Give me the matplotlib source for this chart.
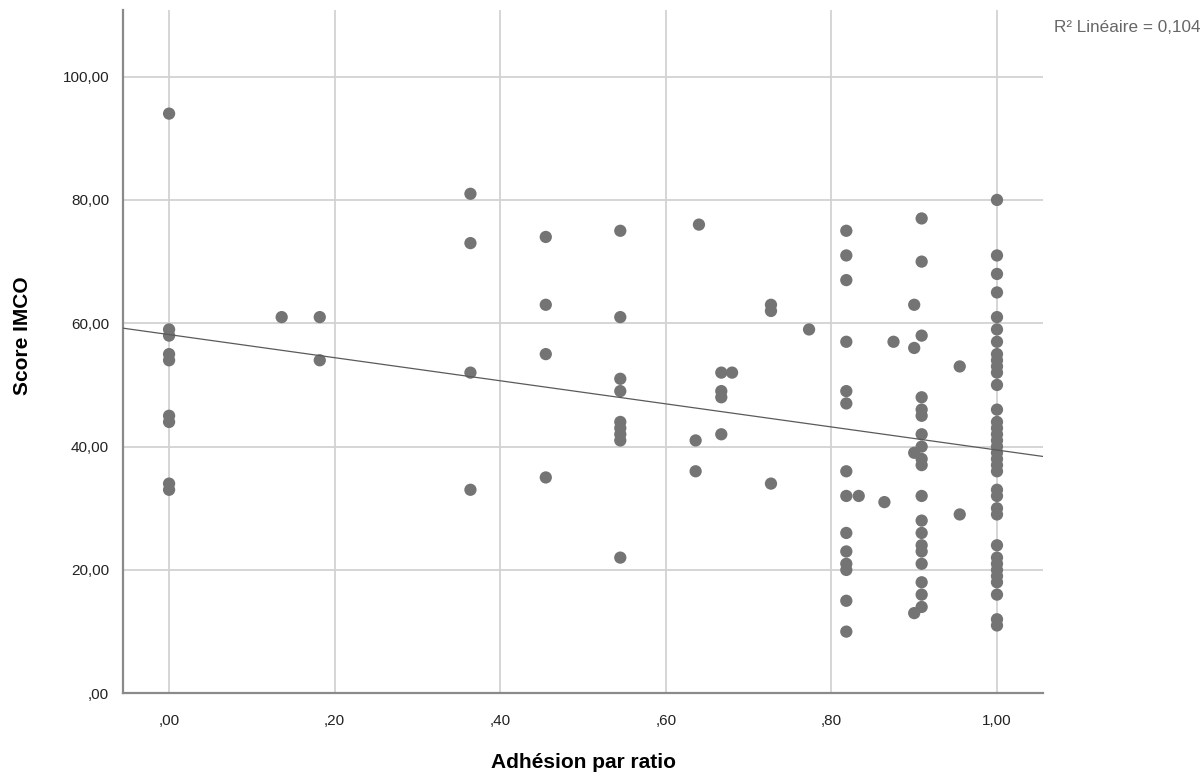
import numpy as np
import matplotlib
matplotlib.use("Agg")
import matplotlib.pyplot as plt

# Données : un ratio d'adhésion et les scores IMCO à ce ratio
adhesion = [0.0, 0.136, 0.182, 0.364, 0.455, 0.545, 0.636, 0.64, 0.667, 0.68,
            0.727, 0.773, 0.818, 0.833, 0.864, 0.875, 0.9, 0.909, 0.955, 1.0]

scores = [
    [94, 59, 58, 55, 54, 45, 44, 34, 33],
    [61],
    [61, 54],
    [81, 73, 52, 33],
    [74, 63, 55, 35],
    [75, 61, 51, 49, 44, 43, 42, 41, 22],
    [41, 36],
    [76],
    [52, 49, 48, 42],
    [52],
    [63, 62, 34],
    [59],
    [75, 71, 67, 57, 49, 47, 36, 32, 26, 23, 21, 20, 15, 10],
    [32],
    [31],
    [57],
    [63, 56, 39, 13],
    [77, 70, 58, 48, 46, 45, 42, 40, 38, 37, 32, 28, 26, 24, 23, 21, 18, 16, 14],
    [53, 29],
    [80, 71, 68, 65, 61, 59, 57, 55, 54, 53, 52, 50, 46, 44, 43, 42, 41, 40, 39,
     38, 37, 36, 33, 32, 30, 29, 24, 22, 21, 20, 19, 18, 16, 12, 11],
]

x_ticks = [0.0, 0.2, 0.4, 0.6, 0.8, 1.0]
x_labels = [",00", ",20", ",40", ",60", ",80", "1,00"]
y_ticks = [0, 20, 40, 60, 80, 100]
y_labels = [",00", "20,00", "40,00", "60,00", "80,00", "100,00"]
r2_texte = "R² Linéaire = 0,104"

# Mettre les points à plat
x = np.concatenate([[a] * len(s) for a, s in zip(adhesion, scores)])
y = np.concatenate(scores).astype(float)

plt.rcParams['font.family'] = ['Liberation Sans', 'DejaVu Sans']

fig = plt.figure(figsize=(12.04, 7.76), dpi=100)
ax = fig.add_axes([0.1022, 0.1066, 0.7641, 0.8805])

xlim = (-0.0556, 1.0556)
ax.set_xlim(*xlim)
ax.set_ylim(0, 110.8)

# Grille
ax.set_xticks(x_ticks)
ax.set_xticklabels(x_labels)
ax.set_yticks(y_ticks)
ax.set_yticklabels(y_labels)
ax.grid(True, color='#d2d2d2', linewidth=1.3)
ax.set_axisbelow(True)

# Nuage de points
ax.scatter(x, y, s=78, color='#747474', edgecolors='none', zorder=3)

# Droite de régression linéaire
pente, ordonnee = np.polyfit(x, y, 1)
xx = np.array(xlim)
ax.plot(xx, ordonnee + pente * xx, color='#5a5a5a', linewidth=0.9, zorder=4)

# Axes
for cote in ['top', 'right']:
    ax.spines[cote].set_visible(False)
for cote in ['left', 'bottom']:
    ax.spines[cote].set_color('#8a8a8a')
    ax.spines[cote].set_linewidth(1.6)
ax.tick_params(axis='both', length=0, labelsize=11, colors='#222222')
ax.tick_params(axis='x', pad=15)
ax.tick_params(axis='y', pad=10)

ax.set_xlabel("Adhésion par ratio", fontsize=15, fontweight='bold', labelpad=18)
ax.set_ylabel("Score IMCO", fontsize=15, fontweight='bold')
ax.yaxis.set_label_coords(-0.099, 0.523)

fig.text(0.997, 0.965, r2_texte, ha='right', va='center', fontsize=12.3, color='#666666')

fig.savefig("out.png", dpi=100)
